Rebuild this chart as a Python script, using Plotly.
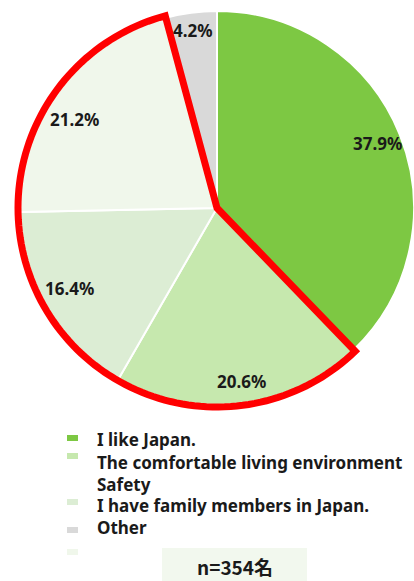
import math
import plotly.graph_objects as go

# ---- data ----
categories = ["I like Japan.", "The comfortable living environment", "Safety",
              "I have family members in Japan.", "Other"]
values = [37.9, 20.6, 16.4, 21.2, 4.2]
value_labels = ["37.9%", "20.6%", "16.4%", "21.2%", "4.2%"]
slice_colors = ["#7DC843", "#C6E8AE", "#DCEDD4", "#F0F7EB", "#D9D9D9"]
highlighted = [1, 2, 3]  # slices circled in red
legend_texts = ["I like Japan.", "The comfortable living environment", "Safety",
                "I have family members in Japan.", "Other"]
legend_colors = ["#7DC843", "#C6E8AE", "#DCEDD4", "#D9D9D9", "#F0F7EB"]
sample_note = "n=354名"

# ---- layout constants (pixels) ----
W, H = 414, 581
CX, CY, R = 217, 208, 197
LABEL_R = [0.88, 0.89, 0.85, 0.85, 0.91]
LABEL_DA = [0, -1, 2, -5, 0]


def px(x):
    return x / W


def py(y):
    return 1 - y / H


fig = go.Figure()
fig.add_trace(go.Pie(
    labels=categories, values=values, sort=False, direction="clockwise",
    rotation=0, marker=dict(colors=slice_colors, line=dict(color="white", width=2)),
    textinfo="none", hoverinfo="skip", showlegend=False,
    domain=dict(x=[px(CX - R), px(CX + R)], y=[py(CY + R), py(CY - R)]),
))

total = sum(values)
cum = [0]
for v in values:
    cum.append(cum[-1] + v)
angles = [c / total * 360 for c in cum]

annotations = []
for i, lab in enumerate(value_labels):
    mid = (angles[i] + angles[i + 1]) / 2 + LABEL_DA[i]
    r = R * LABEL_R[i]
    x = CX + r * math.sin(math.radians(mid))
    y = CY - r * math.cos(math.radians(mid))
    annotations.append(dict(x=px(x), y=py(y), xref="paper", yref="paper",
                            xanchor="center", yanchor="middle",
                            text=f"<b>{lab}</b>", showarrow=False,
                            font=dict(family="Noto Sans", size=17, color="#1a1a1a")))

# red outline around highlighted slices
a1 = angles[highlighted[0]]
a2 = angles[highlighted[-1] + 1]
rr = R + 2
pts = [(CX, CY)]
n = 120
for k in range(n + 1):
    a = math.radians(a1 + (a2 - a1) * k / n)
    pts.append((CX + rr * math.sin(a), CY - rr * math.cos(a)))
path = "M " + " L ".join(f"{px(x):.5f},{py(y):.5f}" for x, y in pts) + " Z"
shapes = [dict(type="path", path=path, xref="paper", yref="paper",
               line=dict(color="#FF0000", width=7), fillcolor="rgba(0,0,0,0)")]

# manual legend
text_y = [439, 462, 484, 505, 527]
marker_y = [438, 456, 502, 530, 552]
for t, yy in zip(legend_texts, text_y):
    annotations.append(dict(x=px(95), y=py(yy), xref="paper", yref="paper",
                            xanchor="left", yanchor="middle", showarrow=False,
                            text=f"<b>{t}</b>",
                            font=dict(family="Noto Sans", size=17, color="#1a1a1a")))
for c, yy in zip(legend_colors, marker_y):
    shapes.append(dict(type="rect", xref="paper", yref="paper",
                       x0=px(67), x1=px(78), y0=py(yy + 3), y1=py(yy - 3),
                       fillcolor=c, line=dict(width=0)))

# sample size box
shapes.append(dict(type="rect", xref="paper", yref="paper",
                   x0=px(162), x1=px(307), y0=py(581), y1=py(548),
                   fillcolor="#F2F8EE", line=dict(width=0), layer="below"))
annotations.append(dict(x=px(235), y=py(566), xref="paper", yref="paper",
                        xanchor="center", yanchor="middle",
                        showarrow=False, text=f"<b>{sample_note}</b>",
                        font=dict(family="Noto Sans CJK JP", size=19, color="#1a1a1a")))

fig.update_layout(width=W, height=H, margin=dict(l=0, r=0, t=0, b=0),
                  paper_bgcolor="white", plot_bgcolor="white",
                  annotations=annotations, shapes=shapes, showlegend=False)
fig.write_html("out.html", config={"displayModeBar": False},
               post_script="document.body.style.margin='0px';document.body.style.overflow='hidden';")
